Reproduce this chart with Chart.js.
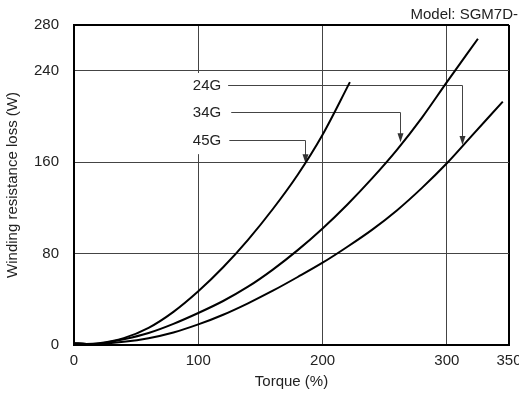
<!DOCTYPE html>
<html>
<head>
<meta charset="utf-8">
<script src="https://cdn.jsdelivr.net/npm/chart.js@4"></script>
<style>
  body { margin: 0; background: #fff; }
  canvas { display: block; }
</style>
</head>
<body>
<canvas id="lossChart" width="519" height="395"></canvas>
<script>
// torque (%) sample points for each curve
const torque45G = [0, 10, 20, 40, 60, 80, 100, 120, 140, 160, 180, 200, 222];
const loss45G   = [1.5, 0.8, 1.5, 6, 15, 29, 47, 68, 92, 119, 149, 184, 230];

const torque34G = [0, 10, 20, 40, 60, 80, 100, 120, 140, 160, 180, 200, 220, 240, 260, 280, 300, 325];
const loss34G   = [1.5, 0.8, 1.2, 5, 10.5, 18.5, 28, 38.5, 51, 66, 83, 102, 123, 146, 171, 199, 230, 268];

const torque24G = [0, 10, 20, 40, 60, 80, 100, 120, 140, 160, 180, 200, 220, 240, 260, 280, 300, 320, 345];
const loss24G   = [1.5, 0.8, 1, 2.8, 6, 11, 18, 26.5, 36.5, 47.5, 59.5, 72, 86, 101, 118, 137.5, 159, 183, 213];

const xTicks = [0, 100, 200, 300, 350];
const yTicks = [0, 80, 160, 240, 280];

// callouts: label, text position, horizontal leader end, arrow tip (all in data units)
const callouts = [
    { label: '24G', textX: 107, textY: 227.5, lineFrom: 124, lineTo: 312, tip: 175 },
    { label: '34G', textX: 107, textY: 204, lineFrom: 126.5, lineTo: 262, tip: 177.5 },
    { label: '45G', textX: 107, textY: 179.5, lineFrom: 125, lineTo: 186, tip: 159 }
];

const FONT = '"Liberation Sans", Arial, sans-serif';

function toPoints(xs, ys) {
    return xs.map((x, i) => ({ x: x, y: ys[i] }));
}

function curve(label, xs, ys) {
    return {
        label: label,
        data: toPoints(xs, ys),
        borderColor: '#000',
        borderWidth: 2,
        pointRadius: 0,
        fill: false,
        cubicInterpolationMode: 'monotone'
    };
}

// white box behind labels + leader lines and arrows
const calloutPlugin = {
    id: 'callouts',
    beforeDatasetsDraw(chart) {
        const ctx = chart.ctx;
        const xs = chart.scales.x;
        const ys = chart.scales.y;
        ctx.save();

        ctx.fillStyle = '#fff';
        const bx1 = xs.getPixelForValue(93.5), bx2 = xs.getPixelForValue(122.5);
        const by1 = ys.getPixelForValue(238), by2 = ys.getPixelForValue(167);
        ctx.fillRect(bx1, by1, bx2 - bx1, by2 - by1);

        ctx.font = '15px ' + FONT;
        ctx.textAlign = 'center';
        ctx.textBaseline = 'middle';
        callouts.forEach(c => {
            const tx = xs.getPixelForValue(c.textX);
            const ty = Math.round(ys.getPixelForValue(c.textY)) + 0.5;
            ctx.fillStyle = '#222';
            ctx.fillText(c.label, tx, ty);

            const x1 = xs.getPixelForValue(c.lineFrom);
            const x2 = Math.round(xs.getPixelForValue(c.lineTo)) + 0.5;
            const tipY = ys.getPixelForValue(c.tip);
            ctx.strokeStyle = '#444';
            ctx.lineWidth = 1;
            ctx.beginPath();
            ctx.moveTo(x1, ty);
            ctx.lineTo(x2, ty);
            ctx.lineTo(x2, tipY - 6);
            ctx.stroke();

            ctx.fillStyle = '#333';
            ctx.beginPath();
            ctx.moveTo(x2 - 3, tipY - 9);
            ctx.lineTo(x2 + 3, tipY - 9);
            ctx.lineTo(x2, tipY);
            ctx.closePath();
            ctx.fill();
        });
        ctx.restore();
    },
    afterDraw(chart) {
        const ctx = chart.ctx;
        ctx.save();
        ctx.font = '15px ' + FONT;
        ctx.fillStyle = '#222';
        ctx.textAlign = 'right';
        ctx.textBaseline = 'middle';
        ctx.fillText('Model: SGM7D-', 518, 15);
        ctx.restore();
    }
};

new Chart(document.getElementById('lossChart'), {
    type: 'line',
    data: {
        datasets: [
            curve('45G', torque45G, loss45G),
            curve('34G', torque34G, loss34G),
            curve('24G', torque24G, loss24G)
        ]
    },
    options: {
        responsive: false,
        animation: false,
        layout: { padding: { top: 25, right: 10, left: 0, bottom: 0 } },
        scales: {
            x: {
                type: 'linear',
                min: 0,
                max: 350,
                afterBuildTicks: (scale) => { scale.ticks = xTicks.map(v => ({ value: v })); },
                afterFit: (scale) => { scale.height = 50; scale.paddingLeft = 0; scale.paddingRight = 0; },
                ticks: { color: '#222', padding: 7, maxRotation: 0, autoSkip: false, font: { family: FONT, size: 15 } },
                grid: {
                    drawTicks: false,
                    color: (c) => (c.tick && c.tick.value === 350 ? '#000' : '#444'),
                    lineWidth: (c) => (c.tick && c.tick.value === 350 ? 2 : 1)
                },
                border: { color: '#000', width: 2 },
                title: { display: true, text: 'Torque (%)', color: '#222', font: { family: FONT, size: 15 } }
            },
            y: {
                min: 0,
                max: 280,
                afterBuildTicks: (scale) => { scale.ticks = yTicks.map(v => ({ value: v })); },
                afterFit: (scale) => { scale.width = 74; scale.paddingTop = 0; scale.paddingBottom = 0; },
                ticks: { color: '#222', padding: 15, font: { family: FONT, size: 15 } },
                grid: {
                    drawTicks: false,
                    color: (c) => (c.tick && c.tick.value === 280 ? '#000' : '#444'),
                    lineWidth: (c) => (c.tick && c.tick.value === 280 ? 2 : 1)
                },
                border: { color: '#000', width: 2 },
                title: { display: true, text: 'Winding resistance loss (W)', color: '#222', font: { family: FONT, size: 15 } }
            }
        },
        plugins: {
            legend: { display: false },
            tooltip: { enabled: false }
        }
    },
    plugins: [calloutPlugin]
});
</script>
</body>
</html>
